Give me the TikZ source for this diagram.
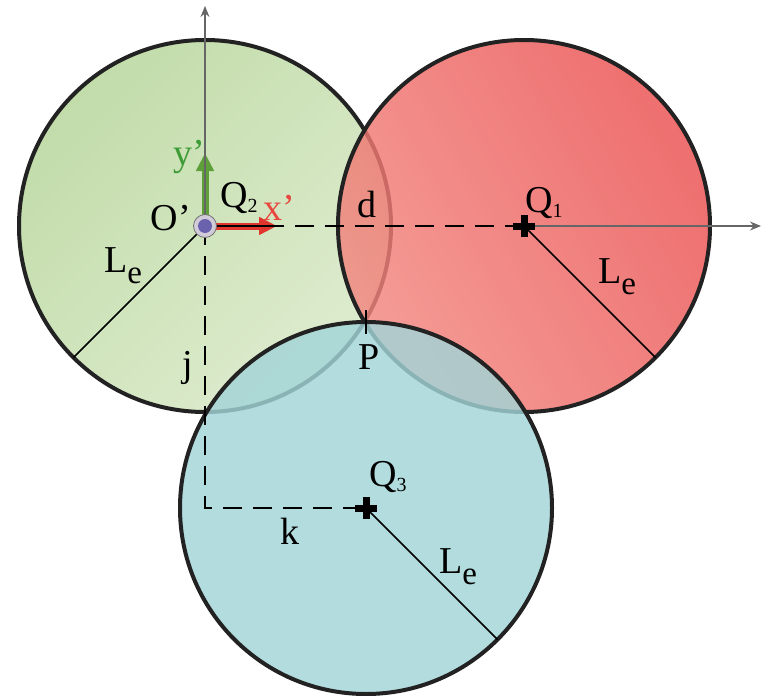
\documentclass[tikz,border=0pt]{standalone}
\usepackage{fontspec}
\setmainfont{Liberation Serif}
\usetikzlibrary{arrows.meta}
\definecolor{grnA}{HTML}{C2DCAA}
\definecolor{grnB}{HTML}{DEECCF}
\definecolor{redA}{HTML}{EA4F4F}
\definecolor{redB}{HTML}{F2867F}
\definecolor{bluA}{HTML}{A2D4D7}
\definecolor{rimc}{HTML}{222222}
\definecolor{xred}{HTML}{E8473F}
\definecolor{xarr}{HTML}{E0362E}
\definecolor{ygrn}{HTML}{3E9B36}
\definecolor{yarr}{HTML}{5E9F3A}
\definecolor{dotc}{HTML}{6B62AE}
\definecolor{ringc}{HTML}{D2CCDA}
\newcommand\mysub[1]{\raisebox{-0.12em}{\fontsize{20}{20}\selectfont #1}}
\newcommand\esub{\raisebox{-0.28em}{\fontsize{33}{33}\selectfont e}}
\begin{document}
\begin{tikzpicture}[x=1pt,y=-1pt,
 rim/.style={draw=rimc,line width=4pt},
 axisline/.style={draw=black!60,line width=1.1pt},
 dashline/.style={draw=black,line width=2pt,dash pattern=on 19pt off 11pt},
 radline/.style={draw=black,line width=1.6pt},
 lbl/.style={inner sep=0pt,font=\fontsize{38}{41}\selectfont},
 crossmark/.style={draw=black,line width=7pt}
]
\useasboundingbox (0,0) rectangle (763,696);
\coordinate (O) at (205,226);
\coordinate (Q1) at (524,226);
\coordinate (Q3) at (366,508);
\coordinate (P) at (366,322);
\coordinate (C) at (205,508);
\coordinate (Ytip) at (205,6);
\coordinate (Xtip) at (761,226);
\coordinate (R2) at (73.5,357.5);
\coordinate (R1) at (655.5,357.5);
\coordinate (R3) at (497.5,639.5);
\coordinate (Pa) at (366,310);
\coordinate (Pb) at (366,334);
\coordinate (Yv) at (205,153);
\coordinate (Xv) at (277,226);
% circles
\shade[shading=axis,top color=grnA,bottom color=grnB,shading angle=45] (O) circle[radius=186];
\draw[rim] (O) circle[radius=186];
\shade[shading=axis,top color=redA,bottom color=redB,shading angle=-60,fill opacity=0.82,opacity=0.82] (Q1) circle[radius=186];
\draw[rim] (Q1) circle[radius=186];
\fill[bluA,fill opacity=0.82] (Q3) circle[radius=186];
\draw[rim] (Q3) circle[radius=186];
% axes and dashed lines
\draw[axisline,-{Stealth[length=11pt,width=9pt]}] (O) -- (Ytip);
\draw[axisline,-{Stealth[length=11pt,width=9pt]}] (Q1) -- (Xtip);
\draw[dashline] (O) -- (Q1);
\draw[dashline] (O) -- (C) -- (Q3);
% radii
\draw[radline] (O) -- (R2);
\draw[radline] (Q1) -- (R1);
\draw[radline] (Q3) -- (R3);
\draw[radline] (Pa) -- (Pb);
% local frame arrows
\draw[yarr,line width=7pt,-{Triangle[length=18pt,width=17pt]}] (O) -- (Yv);
\draw[xarr,line width=7pt,-{Triangle[length=18pt,width=17pt]}] (O) -- (Xv);
\draw[axisline] (O) -- (Yv);
\draw[black,line width=1.2pt] (O) -- (Xv);
\filldraw[fill=ringc,draw=black!55,line width=0.8pt] (O) circle[radius=11.5];
\fill[dotc] (O) circle[radius=7];
% crosses
\draw[crossmark] (Q1) +(-11,0) -- +(11,0) (Q1) +(0,-11) -- +(0,11);
\draw[crossmark] (Q3) +(-11,0) -- +(11,0) (Q3) +(0,-11) -- +(0,11);
% labels
\node[lbl] (lO) at (171,218) {O'};
\node[lbl] (lQ2) at (239,198) {Q\mysub{2}};
\node[lbl,text=xred] (lx) at (279,208) {x'};
\node[lbl,text=ygrn] (ly) at (189,157) {y'};
\node[lbl] (ld) at (367,204) {d};
\node[lbl] (lQ1) at (544,203) {Q\mysub{1}};
\node[lbl] (lP) at (369,357) {P};
\node[lbl] (lQ3) at (388,477) {Q\mysub{3}};
\node[lbl] (lj) at (188,368) {j};
\node[lbl] (lk) at (290,531) {k};
\node[lbl] (lL2) at (123,266) {L\esub};
\node[lbl] (lL1) at (617,277) {L\esub};
\node[lbl] (lL3) at (458,567) {L\esub};
\end{tikzpicture}
\end{document}
